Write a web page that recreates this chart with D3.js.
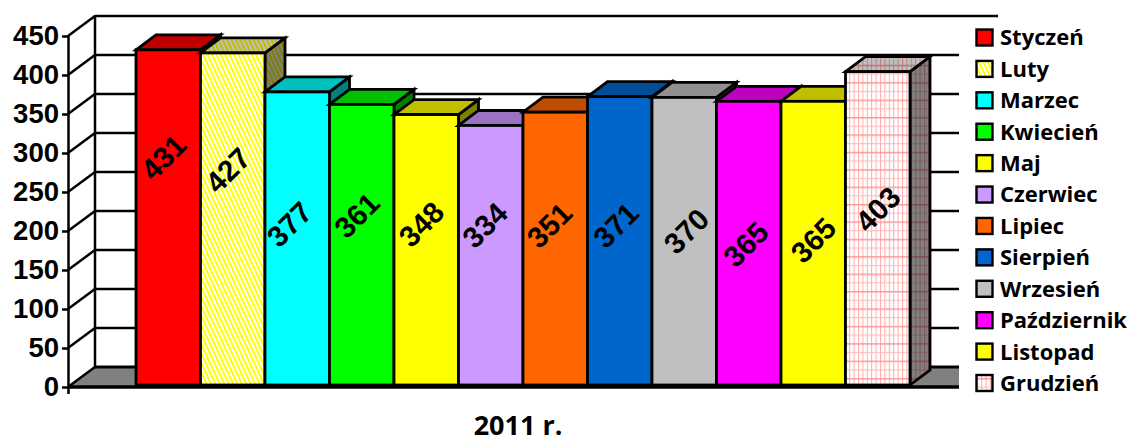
<!DOCTYPE html>
<html><head><meta charset="utf-8">
<script src="https://cdn.jsdelivr.net/npm/d3@7"></script>
<style>html,body{margin:0;padding:0;background:#fff}svg{display:block}</style>
</head><body><svg id="c" width="1128" height="436"></svg>
<script>
const months = ["Styczeń","Luty","Marzec","Kwiecień","Maj","Czerwiec","Lipiec","Sierpień","Wrzesień","Październik","Listopad","Grudzień"];
const values = [431,427,377,361,348,334,351,371,370,365,365,403];
const yTicks = [0,50,100,150,200,250,300,350,400,450];
const fills = ["#ff0000","hatch","#00ffff","#00ff00","#ffff00","#cc99ff","#ff6600","#0066cc","#c0c0c0","#ff00ff","#ffff00","grid"];
const xAxisTitle = "2011 r.";
// label placement relative to each bar (the source chart's hand-moved labels)
const labelCentreY = [157,170,224,215,224,225,225,225,231,244,240,209];
const labelShiftX = [-5,-5,-8,-5,-5,-6,-6,-4,2,-3,0,0];

const svg = d3.select("#c");
const defs = svg.append("defs");
const wallDx = 27, wallDy = 20, barDx = 20, barDy = 15;
const x = d3.scaleBand().domain(months).range([136,910]).padding(0);
const y = d3.scaleLinear().domain([0,450]).range([386,35]);

function hatch(id, k){
  const p = defs.append("pattern").attr("id",id).attr("patternUnits","userSpaceOnUse")
    .attr("width",4).attr("height",4).attr("patternTransform","rotate(-25)");
  p.append("rect").attr("width",4).attr("height",4).attr("fill",d3.rgb(255*k,255*k,255*k));
  p.append("rect").attr("width",2).attr("height",4).attr("fill",d3.rgb(255*k,255*k,0));
}
function grid(id, k){
  const p = defs.append("pattern").attr("id",id).attr("patternUnits","userSpaceOnUse")
    .attr("width",4.4).attr("height",17.4);
  p.append("rect").attr("width",4.4).attr("height",17.4).attr("fill",d3.rgb(255*k,255*k,255*k));
  p.append("rect").attr("width",1).attr("height",17.4).attr("fill",d3.rgb(255*k,170*k,170*k));
  p.append("rect").attr("y",4).attr("width",4.4).attr("height",1).attr("fill",d3.rgb(255*k,185*k,185*k));
  p.append("rect").attr("y",12.7).attr("width",4.4).attr("height",1.3).attr("fill",d3.rgb(255*k,140*k,140*k));
}
[[1,""],[.75,"T"],[.5,"S"]].forEach(([k,s])=>{hatch("hatch"+s,k);grid("grid"+s,k);});
function paint(f,k,s){
  if(f==="hatch"||f==="grid") return `url(#${f}${s})`;
  const c = d3.rgb(f); return d3.rgb(c.r*k,c.g*k,c.b*k).formatHex();
}

// floor
const x0 = 68, xEnd = 959, xTop = 998, base = y(0);
svg.append("path").attr("d",`M${x0},${base+1}L${x0+wallDx},${base-wallDy+1}H${xEnd}V${base+1}Z`).attr("fill","#808080");
// back wall gridlines and left-wall diagonals
yTicks.forEach(t=>{
  const yy = y(t);
  svg.append("line").attr("x1",x0).attr("y1",yy+1).attr("x2",x0+wallDx).attr("y2",yy-wallDy+1)
    .attr("stroke","#000").attr("stroke-width",2.5);
  svg.append("line").attr("x1",x0+wallDx).attr("x2",t===450?xTop:xEnd).attr("y1",yy-wallDy+1).attr("y2",yy-wallDy+1)
    .attr("stroke","#000").attr("stroke-width",t===0?3:2.5);
});
svg.append("line").attr("x1",x0+wallDx).attr("x2",x0+wallDx).attr("y1",y(450)-wallDy).attr("y2",y(0)-wallDy+1)
  .attr("stroke","#000").attr("stroke-width",2.5);

// bars, left to right so each front covers the neighbour's side
const bars = svg.append("g").attr("stroke","#000").attr("stroke-width",2.8).attr("stroke-linejoin","miter");
months.forEach((m,i)=>{
  const l = x(m), w = x.bandwidth(), t = y(values[i]), f = fills[i], b = 385;
  bars.append("path").attr("d",`M${l+w},${t}l${barDx},${-barDy}V${b-barDy}L${l+w},${b}Z`).attr("fill",paint(f,.5,"S"));
  bars.append("path").attr("d",`M${l},${t}l${barDx},${-barDy}h${w}l${-barDx},${barDy}Z`).attr("fill",paint(f,.75,"T"));
  bars.append("rect").attr("x",l).attr("y",t).attr("width",w).attr("height",b-t).attr("fill",paint(f,1,""));
});

// front baseline
svg.append("line").attr("x1",x0).attr("x2",xEnd).attr("y1",base+1).attr("y2",base+1).attr("stroke","#000").attr("stroke-width",3.4);

// value labels
months.forEach((m,i)=>{
  const cx = x(m)+x.bandwidth()/2+labelShiftX[i], cy = labelCentreY[i];
  svg.append("text").attr("transform",`translate(${cx},${cy}) rotate(-45)`)
    .attr("text-anchor","middle").attr("dy","0.36em")
    .attr("font-family","'Liberation Sans',Arial,sans-serif").attr("font-weight","bold").attr("font-size",29.5)
    .text(values[i]);
});

// y axis
const ax = svg.append("g").attr("transform",`translate(${x0},1)`)
  .call(d3.axisLeft(y).tickValues(yTicks).tickSize(6).tickSizeOuter(0).tickPadding(3));
ax.selectAll("path,line").attr("stroke","#000").attr("stroke-width",2.5);
ax.select(".domain").attr("d",`M0.5,${y(450)}V${y(0)+7}`);
ax.selectAll("text").attr("font-family","'Liberation Sans',Arial,sans-serif").attr("font-weight","bold").attr("font-size",27.5).attr("fill","#000");

// legend
const ly = d3.scalePoint().domain(months).range([37.5,383]);
months.forEach((m,i)=>{
  const yy = ly(m);
  svg.append("rect").attr("x",976.5).attr("y",yy-8).attr("width",16).attr("height",16)
    .attr("fill",paint(fills[i],1,"")).attr("stroke","#000").attr("stroke-width",2.4);
  svg.append("text").attr("x",1000).attr("y",yy).attr("dy","0.36em")
    .attr("font-family","'Open Sans',sans-serif").attr("font-weight","bold").attr("font-size",22).attr("fill","#000")
    .text(m);
});

// axis title
svg.append("text").attr("x",518).attr("y",435).attr("text-anchor","middle")
  .attr("font-family","'Open Sans',sans-serif").attr("font-weight","bold").attr("font-size",27).text(xAxisTitle);
</script></body></html>
